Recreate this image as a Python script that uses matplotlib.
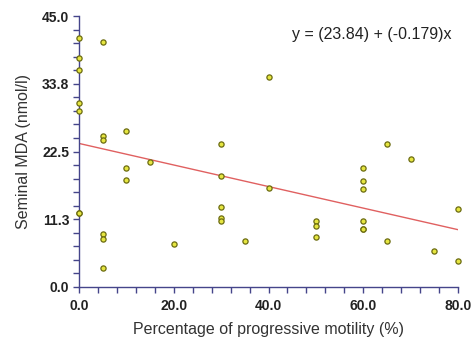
import numpy as np
import matplotlib
matplotlib.use("Agg")
import matplotlib.pyplot as plt
from matplotlib.ticker import MultipleLocator, FixedLocator, FixedFormatter

# dados
motilidade = [0, 0, 0, 0, 0, 0, 0,
              5, 5, 5, 5, 5, 5,
              10, 10, 10, 15, 20,
              30, 30, 30, 30, 30, 35,
              40, 40, 50, 50, 50,
              60, 60, 60, 60, 60, 60,
              65, 65, 70, 75, 80, 80]
mda = [41.4, 38.0, 36.1, 30.6, 29.2, 12.3, 12.3,
       40.6, 25.1, 24.4, 8.8, 8.0, 3.2,
       25.9, 19.8, 17.7, 20.8, 7.2,
       23.8, 18.5, 13.3, 11.5, 11.0, 7.7,
       34.8, 16.5, 10.9, 10.1, 8.3,
       19.8, 17.6, 16.2, 10.9, 9.6, 9.6,
       23.7, 7.7, 21.2, 6.0, 12.9, 4.4]
intercepto = 23.84
inclinacao = -0.179

y_ticks = [0.0, 11.25, 22.5, 33.75, 45.0]
y_labels = ["0.0", "11.3", "22.5", "33.8", "45.0"]
x_ticks = [0, 20, 40, 60, 80]
x_labels = ["0.0", "20.0", "40.0", "60.0", "80.0"]

plt.rcParams['font.family'] = ['Liberation Sans', 'DejaVu Sans']

fig = plt.figure(figsize=(4.71, 3.41), dpi=100)
ax = fig.add_axes([79/471, 1 - 287/341, (458 - 79)/471, (287 - 16)/341])

ax.scatter(motilidade, mda, s=14, facecolor='#e6e640', edgecolor='#6b6b10',
           linewidth=0.9, zorder=3, clip_on=False)

xs = np.array([0, 80])
ax.plot(xs, intercepto + inclinacao * xs, color='#e06060', linewidth=1.0, zorder=2)

ax.set_xlim(0, 80)
ax.set_ylim(0, 45)

azul = '#45458a'
for lado in ['top', 'right']:
    ax.spines[lado].set_visible(False)
for lado in ['left', 'bottom']:
    ax.spines[lado].set_color(azul)
    ax.spines[lado].set_linewidth(1.0)

ax.yaxis.set_major_locator(FixedLocator(y_ticks))
ax.yaxis.set_major_formatter(FixedFormatter(y_labels))
ax.yaxis.set_minor_locator(MultipleLocator(2.25))
ax.xaxis.set_major_locator(FixedLocator(x_ticks))
ax.xaxis.set_major_formatter(FixedFormatter(x_labels))
ax.xaxis.set_minor_locator(MultipleLocator(4))

ax.tick_params(which='both', direction='out', color=azul, width=1.0, length=4)
ax.tick_params(which='major', labelsize=10)
ax.tick_params(axis='x', which='major', pad=5)
ax.tick_params(axis='y', which='major', pad=3)
for t in ax.get_xticklabels() + ax.get_yticklabels():
    t.set_fontweight('bold')
    t.set_color('#222222')

ax.set_xlabel("Percentage of progressive motility (%)", fontsize=11.5, color='#333333', labelpad=6)
ax.set_ylabel("Seminal MDA (nmol/l)", fontsize=11.5, color='#333333', labelpad=8)

ax.text(0.984, 0.93, "y = (23.84) + (-0.179)x", transform=ax.transAxes,
        ha='right', va='center', fontsize=11.5, color='#222222')

fig.savefig("out.png", dpi=100)
